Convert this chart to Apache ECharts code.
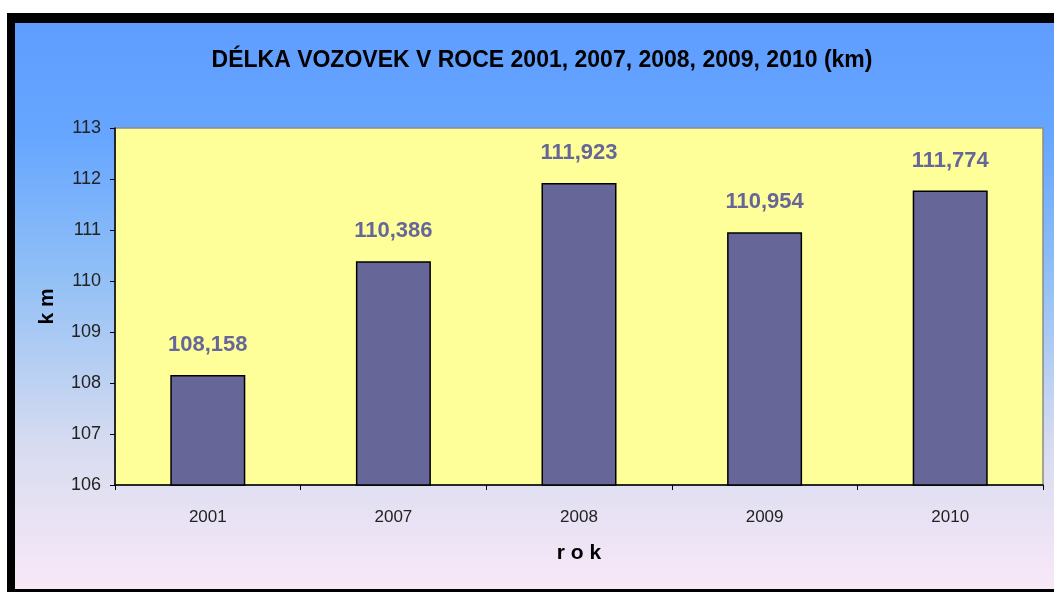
<!DOCTYPE html>
<html>
<head>
<meta charset="utf-8">
<script src="https://cdn.jsdelivr.net/npm/echarts@6/dist/echarts.min.js"></script>
<style>
html,body{margin:0;padding:0;background:#fff;}
#c{width:1054px;height:592px;}
</style>
</head>
<body>
<div id="c"></div>
<script>
const categories = ['2001', '2007', '2008', '2009', '2010'];
const values = [108.158, 110.386, 111.923, 110.954, 111.774];
const yTicks = [106, 107, 108, 109, 110, 111, 112, 113];

const chart = echarts.init(document.getElementById('c'));
const sans = "'Liberation Sans', Arial, sans-serif";
chart.setOption({
  animation: false,
  backgroundColor: '#fff',
  graphic: [
    { type: 'rect', z: -10, silent: true, shape: { x: 7, y: 13, width: 1060, height: 590 }, style: { fill: '#000' } },
    { type: 'rect', z: -9, silent: true, shape: { x: 15, y: 23, width: 1050, height: 566 },
      style: { fill: new echarts.graphic.LinearGradient(0, 0, 0, 1, [
        { offset: 0, color: '#5F9DFF' },
        { offset: 0.2, color: '#66A6FF' },
        { offset: 0.45, color: '#92C0F6' },
        { offset: 0.75, color: '#D8DCF0' },
        { offset: 1, color: '#F8E8F8' }
      ]) } }
  ],
  title: {
    text: 'DÉLKA VOZOVEK V ROCE 2001, 2007, 2008, 2009, 2010 (km)',
    left: 537, top: 44, textAlign: 'center',
    textStyle: { fontFamily: sans, fontWeight: 'bold', fontSize: 23, color: '#000' }
  },
  grid: {
    left: 115, top: 128, right: 11, bottom: 107,
    show: true, backgroundColor: '#FFFF99', borderColor: '#8a8a8a', borderWidth: 1.5
  },
  xAxis: {
    type: 'category', data: categories,
    name: 'r o k', nameLocation: 'middle', nameGap: 58,
    nameTextStyle: { fontFamily: sans, fontWeight: 'bold', fontSize: 21, color: '#000' },
    axisLine: { lineStyle: { color: '#000', width: 1.5 } },
    axisTick: { show: true, alignWithLabel: false, length: 5, lineStyle: { color: '#000' } },
    axisLabel: { margin: 24, fontFamily: sans, fontSize: 17, color: '#222' }
  },
  yAxis: {
    type: 'value', min: yTicks[0], max: yTicks[yTicks.length - 1], interval: 1,
    name: 'k m', nameLocation: 'middle', nameGap: 57, nameRotate: 90,
    nameTextStyle: { fontFamily: sans, fontWeight: 'bold', fontSize: 21, color: '#000' },
    axisLine: { show: true, lineStyle: { color: '#000', width: 1.5 } },
    axisTick: { show: true, length: 5, lineStyle: { color: '#000' } },
    splitLine: { show: false },
    axisLabel: { margin: 14, fontFamily: sans, fontSize: 18, color: '#222' }
  },
  series: [{
    type: 'bar', data: values, barWidth: 75,
    itemStyle: { color: '#666699', borderColor: '#000', borderWidth: 1.5 },
    label: {
      show: true, position: 'top', distance: 19,
      fontFamily: sans, fontWeight: 'bold', fontSize: 22, color: '#666699',
      formatter: p => p.value.toFixed(3).replace('.', ',')
    }
  }]
});
</script>
</body>
</html>
